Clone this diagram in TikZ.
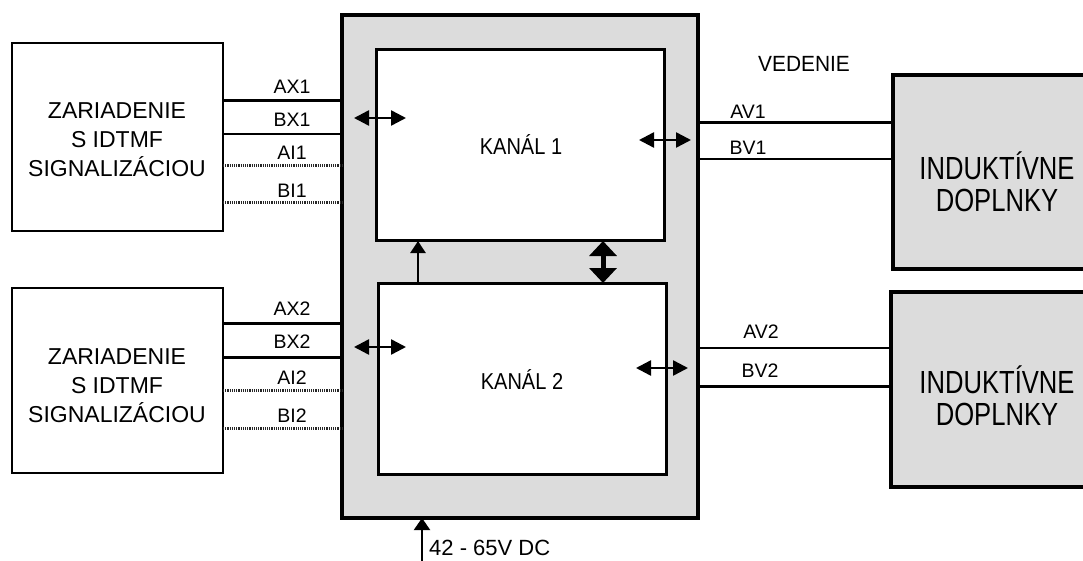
\documentclass[tikz,border=0pt]{standalone}
\usepackage{fontspec}
\setmainfont{Liberation Sans}
\usetikzlibrary{arrows.meta}
\definecolor{bgray}{RGB}{220,220,220}
\newcommand{\sx}[2]{\scalebox{#1}[1]{#2}}
\begin{document}
\begin{tikzpicture}[x=1pt,y=-1pt,
  box/.style={draw=black, rectangle, inner sep=0pt, outer sep=0pt},
  wire/.style={line width=2pt},
  wirethick/.style={line width=3pt},
  hatch/.style={line width=3pt, dash pattern=on 1.2pt off 1pt, black!85},
  lbl/.style={font=\fontsize{19.5}{22}\selectfont, inner sep=0pt},
  devtxt/.style={font=\fontsize{23}{29}\selectfont, inner sep=0pt},
  indtxt/.style={font=\fontsize{32}{30}\selectfont, inner sep=0pt},
  kantxt/.style={font=\fontsize{23}{28}\selectfont, inner sep=0pt},
  dbl/.style={line width=2.5pt, {Triangle[length=15pt,width=15pt]}-{Triangle[length=15pt,width=15pt]}},
  sgl/.style={line width=2.5pt, -{Triangle[length=12pt,width=15pt]}},
  bigdbl/.style={line width=5pt, {Triangle[length=15pt,width=27pt]}-{Triangle[length=15pt,width=27pt]}},
]
\clip (0,0) rectangle (1083,561);
\fill[white] (0,0) rectangle (1083,561);

% main gray box
\node[box, line width=4pt, fill=bgray, minimum width=356pt, minimum height=503pt] (main) at (520,266.5) {};
% channel boxes
\node[box, line width=3pt, fill=white, minimum width=288pt, minimum height=191pt] (k1) at (520,145.5) {};
\node[box, line width=3pt, fill=white, minimum width=288pt, minimum height=191pt] (k2) at (522,378.5) {};
\node[kantxt] (k1t) at (521,145) {\sx{0.87}{KANÁL 1}};
\node[kantxt] (k2t) at (522,380) {\sx{0.87}{KANÁL 2}};

% left devices
\node[box, line width=2.5pt, minimum width=211pt, minimum height=188pt] (dev1) at (117.5,137) {};
\node[box, line width=2.5pt, minimum width=211pt, minimum height=185pt] (dev2) at (117.5,380.5) {};
\node[devtxt] (dev1t) at (117,142) {\begin{tabular}{@{}c@{}}ZARIADENIE\\S IDTMF\\SIGNALIZÁCIOU\end{tabular}};
\node[devtxt] (dev2t) at (117,388) {\begin{tabular}{@{}c@{}}ZARIADENIE\\S IDTMF\\SIGNALIZÁCIOU\end{tabular}};

% right inductive boxes
\node[box, line width=4pt, fill=bgray, minimum width=207pt, minimum height=194pt] (ind1) at (996.5,172) {};
\node[box, line width=4pt, fill=bgray, minimum width=209pt, minimum height=195pt] (ind2) at (995.5,389.5) {};
\node[indtxt] (ind1t) at (997,186) {\sx{0.8}{\begin{tabular}{@{}c@{}}INDUKTÍVNE\\DOPLNKY\end{tabular}}};
\node[indtxt] (ind2t) at (997,400) {\sx{0.8}{\begin{tabular}{@{}c@{}}INDUKTÍVNE\\DOPLNKY\end{tabular}}};

% row coordinates
\coordinate (rAX1) at (0,101);
\coordinate (rBX1) at (0,134);
\coordinate (rAI1) at (0,166);
\coordinate (rBI1) at (0,203);
\coordinate (rAX2) at (0,323);
\coordinate (rBX2) at (0,357);
\coordinate (rAI2) at (0,390);
\coordinate (rBI2) at (0,428);
\coordinate (rAV1) at (0,123);
\coordinate (rBV1) at (0,159);
\coordinate (rAV2) at (0,348);
\coordinate (rBV2) at (0,386);

% left wires
\draw[wirethick] (dev1.east |- rAX1) -- (main.west |- rAX1);
\draw[wire] (dev1.east |- rBX1) -- (main.west |- rBX1);
\draw[hatch] (dev1.east |- rAI1) -- (main.west |- rAI1);
\draw[hatch] (dev1.east |- rBI1) -- (main.west |- rBI1);
\draw[wirethick] (dev2.east |- rAX2) -- (main.west |- rAX2);
\draw[wirethick] (dev2.east |- rBX2) -- (main.west |- rBX2);
\draw[hatch] (dev2.east |- rAI2) -- (main.west |- rAI2);
\draw[hatch] (dev2.east |- rBI2) -- (main.west |- rBI2);

% right wires
\draw[wirethick] (main.east |- rAV1) -- (ind1.west |- rAV1);
\draw[wire] (main.east |- rBV1) -- (ind1.west |- rBV1);
\draw[wire] (main.east |- rAV2) -- (ind2.west |- rAV2);
\draw[wirethick] (main.east |- rBV2) -- (ind2.west |- rBV2);

% wire labels
\node[lbl] (lAX1) at (292,87) {AX1};
\node[lbl] (lBX1) at (292,120) {BX1};
\node[lbl] (lAI1) at (292,153) {AI1};
\node[lbl] (lBI1) at (292,191) {BI1};
\node[lbl] (lAX2) at (292,309) {AX2};
\node[lbl] (lBX2) at (292,342) {BX2};
\node[lbl] (lAI2) at (292,378) {AI2};
\node[lbl] (lBI2) at (292,416) {BI2};
\node[lbl] (lAV1) at (748,112) {AV1};
\node[lbl] (lBV1) at (748,148) {BV1};
\node[lbl] (lAV2) at (761,332) {AV2};
\node[lbl] (lBV2) at (760,371) {BV2};
\node[font=\fontsize{22}{26}\selectfont, inner sep=0pt] (ved) at (804,64) {\sx{0.95}{VEDENIE}};

% double arrows near channel borders
\coordinate (a1l) at (354,118);
\coordinate (a1r) at (406,118);
\coordinate (a2l) at (354,347);
\coordinate (a2r) at (406,347);
\coordinate (b1l) at (639,140);
\coordinate (b1r) at (691,140);
\coordinate (b2l) at (636,368);
\coordinate (b2r) at (688,368);
\draw[dbl] (a1l) -- (a1r);
\draw[dbl] (a2l) -- (a2r);
\draw[dbl] (b1l) -- (b1r);
\draw[dbl] (b2l) -- (b2r);

% arrows between channels
\coordinate (c418) at (418,0);
\coordinate (c603) at (603,0);
\draw[sgl] (k2.north -| c418) -- (k1.south -| c418);
\draw[bigdbl] (k1.south -| c603) -- (k2.north -| c603);

% power supply
\coordinate (pw) at (422,561);
\draw[line width=2pt, -{Triangle[length=12pt,width=16pt]}] (pw) -- (main.south -| pw);
\node[font=\fontsize{22}{26}\selectfont, inner sep=0pt, anchor=west] (pwt) at (429,548) {42 - 65V DC};
\end{tikzpicture}
\end{document}
